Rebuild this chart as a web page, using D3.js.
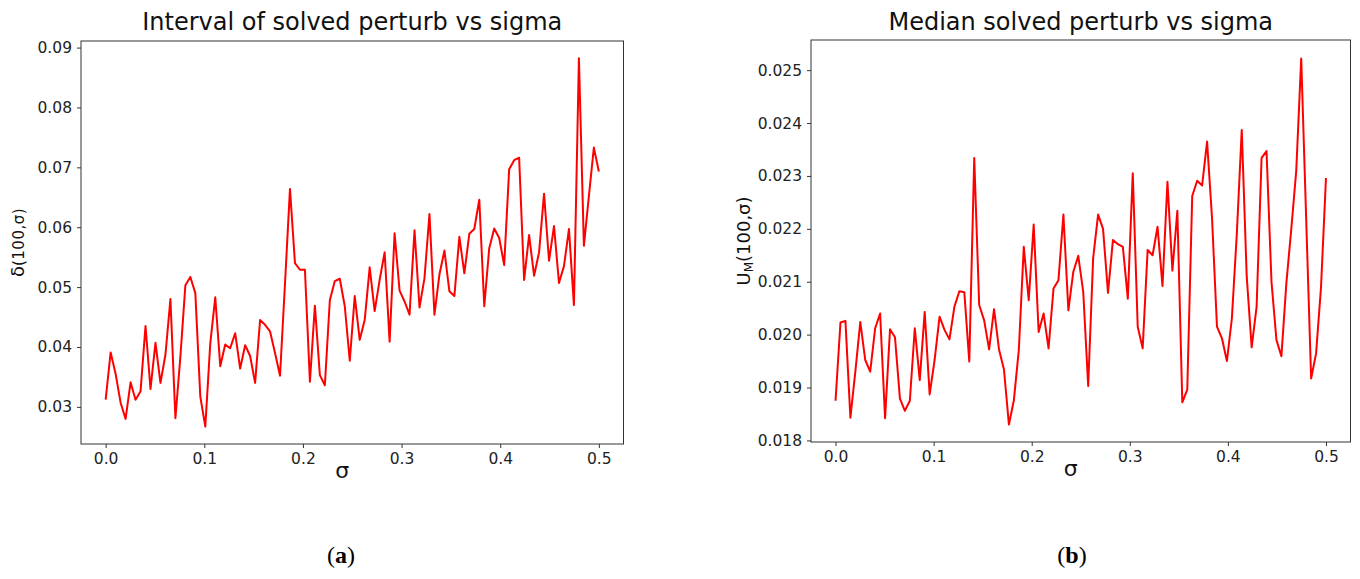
<!DOCTYPE html>
<html>
<head>
<meta charset="utf-8">
<script src="https://cdn.jsdelivr.net/npm/d3@7"></script>
<style>
  body { margin: 0; background: #fff; }
  svg { display: block; }
</style>
</head>
<body>
<script>
const width = 1360;
const height = 579;

// sigma values: 100 points from 0 to 0.5
const sigma = d3.range(100).map(i => 0.5 * i / 99);

// (a) interval of solved perturb
const intervalValues = [
  0.0312, 0.0391, 0.0355, 0.0307, 0.0280, 0.0341, 0.0312, 0.0326, 0.0435, 0.0330,
  0.0407, 0.0340, 0.0387, 0.0480, 0.0281, 0.0384, 0.0503, 0.0517, 0.0490, 0.0317,
  0.0267, 0.0406, 0.0483, 0.0368, 0.0404, 0.0398, 0.0423, 0.0364, 0.0403, 0.0385,
  0.0340, 0.0445, 0.0437, 0.0426, 0.0390, 0.0352, 0.0506, 0.0664, 0.0540, 0.0529,
  0.0529, 0.0342, 0.0469, 0.0353, 0.0336, 0.0478, 0.0510, 0.0514, 0.0468, 0.0377,
  0.0485, 0.0412, 0.0445, 0.0533, 0.0460, 0.0512, 0.0558, 0.0409, 0.0590, 0.0494,
  0.0476, 0.0454, 0.0595, 0.0466, 0.0515, 0.0622, 0.0454, 0.0521, 0.0561, 0.0493,
  0.0485, 0.0584, 0.0523, 0.0589, 0.0597, 0.0646, 0.0468, 0.0565, 0.0598, 0.0582,
  0.0537, 0.0697, 0.0712, 0.0716, 0.0512, 0.0587, 0.0519, 0.0558, 0.0656, 0.0544,
  0.0602, 0.0507, 0.0535, 0.0597, 0.0470, 0.0882, 0.0569, 0.0652, 0.0733, 0.0693
];

// (b) median solved perturb
const medianValues = [
  0.01875, 0.02023, 0.02026, 0.01843, 0.01930, 0.02024, 0.01952, 0.01930, 0.02012, 0.02040,
  0.01842, 0.02010, 0.01995, 0.01879, 0.01856, 0.01875, 0.02012, 0.01914, 0.02043, 0.01887,
  0.01952, 0.02034, 0.02009, 0.01991, 0.02053, 0.02082, 0.02080, 0.01949, 0.02334, 0.02056,
  0.02027, 0.01972, 0.02048, 0.01972, 0.01934, 0.01830, 0.01876, 0.01971, 0.02166, 0.02065,
  0.02208, 0.02005, 0.02040, 0.01974, 0.02087, 0.02103, 0.02227, 0.02046, 0.02119, 0.02149,
  0.02081, 0.01903, 0.02144, 0.02227, 0.02200, 0.02079, 0.02179, 0.02171, 0.02166, 0.02068,
  0.02305, 0.02015, 0.01974, 0.02160, 0.02150, 0.02204, 0.02092, 0.02289, 0.02121, 0.02234,
  0.01872, 0.01896, 0.02262, 0.02291, 0.02282, 0.02365, 0.02220, 0.02015, 0.01993, 0.01950,
  0.02030, 0.02190, 0.02387, 0.02110, 0.01976, 0.02053, 0.02334, 0.02347, 0.02100, 0.01990,
  0.01959, 0.02097, 0.02200, 0.02310, 0.02522, 0.02220, 0.01917, 0.01964, 0.02090, 0.02296
];

const xTicks = [0, 0.1, 0.2, 0.3, 0.4, 0.5];
const intervalTicks = [0.03, 0.04, 0.05, 0.06, 0.07, 0.08, 0.09];
const medianTicks = [0.018, 0.019, 0.020, 0.021, 0.022, 0.023, 0.024, 0.025];

const panels = [
  {
    title: "Interval of solved perturb vs sigma",
    values: intervalValues,
    yTicks: intervalTicks,
    yFormat: d3.format(".2f"),
    yDomain: [0.0238, 0.0911],
    box: { left: 81, right: 623.5, top: 41, bottom: 444 },
    yLabel: "a",
    yLabelX: 24,
    tag: "a",
    tagX: 341
  },
  {
    title: "Median solved perturb vs sigma",
    values: medianValues,
    yTicks: medianTicks,
    yFormat: d3.format(".3f"),
    yDomain: [0.01797, 0.02557],
    box: { left: 811, right: 1350.5, top: 40, bottom: 442 },
    yLabel: "b",
    yLabelX: 750,
    tag: "b",
    tagX: 1072
  }
];

const svg = d3.select("body").append("svg")
  .attr("width", width)
  .attr("height", height)
  .attr("font-family", "DejaVu Sans, sans-serif");

for (const p of panels) {
  const b = p.box;
  const x = d3.scaleLinear().domain([-0.025, 0.525]).range([b.left, b.right]);
  const y = d3.scaleLinear().domain(p.yDomain).range([b.bottom, b.top]);
  const g = svg.append("g");

  const line = d3.line()
    .x((d, i) => x(sigma[i]))
    .y(d => y(d));

  g.append("path")
    .datum(p.values)
    .attr("fill", "none")
    .attr("stroke", "#ff0000")
    .attr("stroke-width", 2)
    .attr("stroke-linejoin", "round")
    .attr("d", line);

  // frame
  g.append("rect")
    .attr("x", b.left)
    .attr("y", b.top)
    .attr("width", b.right - b.left)
    .attr("height", b.bottom - b.top)
    .attr("fill", "none")
    .attr("stroke", "#333")
    .attr("stroke-width", 1);

  const xAxis = g.append("g")
    .attr("transform", `translate(0,${b.bottom})`)
    .call(d3.axisBottom(x).tickValues(xTicks).tickFormat(d3.format(".1f")).tickSizeOuter(0).tickSize(4).tickPadding(5));
  const yAxis = g.append("g")
    .attr("transform", `translate(${b.left},0)`)
    .call(d3.axisLeft(y).tickValues(p.yTicks).tickFormat(p.yFormat).tickSizeOuter(0).tickSize(4).tickPadding(5));

  for (const ax of [xAxis, yAxis]) {
    ax.select(".domain").remove();
    ax.selectAll("line").attr("stroke", "#333");
    ax.selectAll("text").attr("font-size", 15.5).attr("fill", "#222")
      .attr("font-family", "DejaVu Sans, sans-serif");
  }

  g.append("text")
    .attr("x", (b.left + b.right) / 2)
    .attr("y", 30)
    .attr("text-anchor", "middle")
    .attr("font-size", 24)
    .attr("fill", "#111")
    .text(p.title);

  g.append("text")
    .attr("x", x(0.25) - 10)
    .attr("y", b.bottom + 34)
    .attr("text-anchor", "middle")
    .attr("font-size", 22)
    .attr("fill", "#111")
    .text("σ");

  const yl = g.append("text")
    .attr("transform", `translate(${p.yLabelX},${(b.top + b.bottom) / 2}) rotate(-90)`)
    .attr("text-anchor", "middle")
    .attr("fill", "#111");
  if (p.yLabel === "a") {
    yl.append("tspan").attr("font-size", 18).text("δ");
    yl.append("tspan").attr("font-size", 15).attr("letter-spacing", 0.5).text("(100,σ)");
  } else {
    yl.append("tspan").attr("font-size", 18).text("U");
    yl.append("tspan").attr("font-size", 12).attr("dy", 3).text("M");
    yl.append("tspan").attr("font-size", 18).attr("dy", -3).text("(100,σ)");
  }

  const tag = svg.append("text")
    .attr("x", p.tagX)
    .attr("y", 563)
    .attr("text-anchor", "middle")
    .attr("font-family", "Liberation Serif, serif")
    .attr("font-size", 24)
    .attr("fill", "#000");
  tag.append("tspan").text("(");
  tag.append("tspan").attr("font-weight", "bold").text(p.tag);
  tag.append("tspan").text(")");
}
</script>
</body>
</html>
